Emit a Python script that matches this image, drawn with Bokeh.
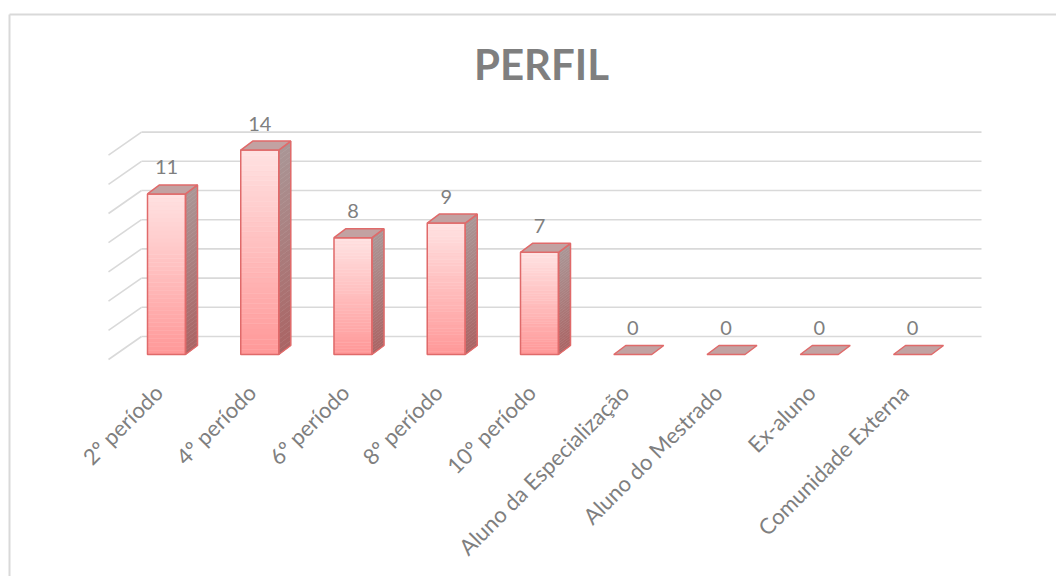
import math
from bokeh.plotting import figure
from bokeh.models import Range1d
from bokeh.core.properties import value
from bokeh.embed import file_html
from bokeh.resources import INLINE

# ---------------- data ----------------
categories = ["2º período", "4º período", "6º período", "8º período", "10º período",
              "Aluno da Especialização", "Aluno do Mestrado", "Ex-aluno", "Comunidade Externa"]
counts = [11, 14, 8, 9, 7, 0, 0, 0, 0]
grid_values = [0, 2, 4, 6, 8, 10, 12, 14]
title_text = "PERFIL"

# ---------------- layout constants (pixels) ----------------
W, H = 1056, 576
PX_X = 93.25      # px per category step
PX_Y = 14.6       # px per unit of value
X0_PX = 166       # first category centre from frame left
Y0_PX = 354       # value 0 (front base) from frame top

def dxp(px):
    return px / PX_X

def dyp(px):
    return px / PX_Y

x_start, x_end = -X0_PX / PX_X, (W - X0_PX) / PX_X
y_start, y_end = -(H - Y0_PX) / PX_Y, Y0_PX / PX_Y

FONT = "Lato"
TXT = "#7f7f7f"

p = figure(width=W, height=H, x_range=Range1d(x_start, x_end), y_range=Range1d(y_start, y_end),
           x_axis_type=None, y_axis_type=None, toolbar_location=None, output_backend="svg",
           min_border=0, outline_line_color=None, background_fill_color="white",
           border_fill_color="white")

# chart-area border (left + top)
bx = x_start + dxp(9)
by = y_end - dyp(14)
p.line(x=[bx, bx], y=[y_start, by], line_color="#d9d9d9", line_width=2)
p.line(x=[bx, x_end], y=[by, by], line_color="#d9d9d9", line_width=2)

# back wall gridlines + side wall diagonals
WALL_DY = dyp(18)
gx0, gx1 = dxp(141 - 166), dxp(981 - 166)
p.segment(x0=[gx0] * len(grid_values), y0=[v + WALL_DY for v in grid_values],
          x1=[gx1] * len(grid_values), y1=[v + WALL_DY for v in grid_values],
          line_color="#d9d9d9", line_width=1.6)
p.segment(x0=[gx0] * len(grid_values), y0=[v + WALL_DY for v in grid_values],
          x1=[gx0 - dxp(33)] * len(grid_values), y1=[v + WALL_DY - dyp(23) for v in grid_values],
          line_color="#d9d9d9", line_width=1.6)

# ---------------- 3D bars ----------------
HW = dxp(19)
DX = dxp(12)
DY = dyp(9)
N = 40

def lerp(c0, c1, t):
    return "#%02x%02x%02x" % tuple(int(round(a + (b - a) * t)) for a, b in zip(c0, c1))

FRONT_BOT, FRONT_TOP = (255, 152, 152), (255, 226, 226)
SIDE_BOT, SIDE_TOP = (170, 100, 100), (170, 150, 150)
EDGE = "#e06a6a"

fl, fr, fb, ft, fc = [], [], [], [], []
sx, sy, sc = [], [], []
for i, v in enumerate(counts):
    if v <= 0:
        continue
    for k in range(N):
        y0 = v * k / N
        y1 = v * (k + 1) / N
        t = (k + 0.5) / N
        fl.append(i - HW); fr.append(i + HW); fb.append(y0); ft.append(y1)
        fc.append(lerp(FRONT_BOT, FRONT_TOP, t))
        sx.append([i + HW, i + HW + DX, i + HW + DX, i + HW])
        sy.append([y0, y0 + DY, y1 + DY, y1])
        sc.append(lerp(SIDE_BOT, SIDE_TOP, t))

p.quad(left=fl, right=fr, bottom=fb, top=ft, fill_color=fc, line_color=fc, line_width=0.5)
p.patches(xs=sx, ys=sy, fill_color=sc, line_color=sc, line_width=0.5)

# outlines of front and side faces
idx = [i for i, v in enumerate(counts) if v > 0]
p.quad(left=[i - HW for i in idx], right=[i + HW for i in idx], bottom=[0] * len(idx),
       top=[counts[i] for i in idx], fill_color=None, line_color=EDGE, line_width=1.5)
p.patches(xs=[[i + HW, i + HW + DX, i + HW + DX, i + HW] for i in idx],
          ys=[[0, DY, counts[i] + DY, counts[i]] for i in idx],
          fill_color=None, line_color=EDGE, line_width=1.5)

# top faces (all bars, including zero bars)
p.patches(xs=[[i - HW, i + HW, i + HW + DX, i - HW + DX] for i in range(len(counts))],
          ys=[[v, v, v + DY, v + DY] for v in counts],
          fill_color="#c2a2a2", line_color=EDGE, line_width=1.5)

# data labels
p.text(x=list(range(len(counts))), y=[v + dyp(26.5) for v in counts], text=[str(v) for v in counts],
       text_align="center", text_baseline="middle", text_color=TXT,
       text_font=value(FONT), text_font_size="20px")

# category labels
p.text(x=[i - dxp(8) for i in range(len(categories))], y=[-dyp(34)] * len(categories),
       text=categories, angle=math.pi / 4, text_align="right", text_baseline="middle",
       text_color=TXT, text_font=value(FONT), text_font_size="22px")

# title
p.text(x=[dxp(541 - 166)], y=[dyp(354 - 63)], text=[title_text], text_align="center",
       text_baseline="middle", text_color=TXT, text_font=value(FONT),
       text_font_size="42px", text_font_style="bold")

open("out.html", "w").write(file_html(p, INLINE))
